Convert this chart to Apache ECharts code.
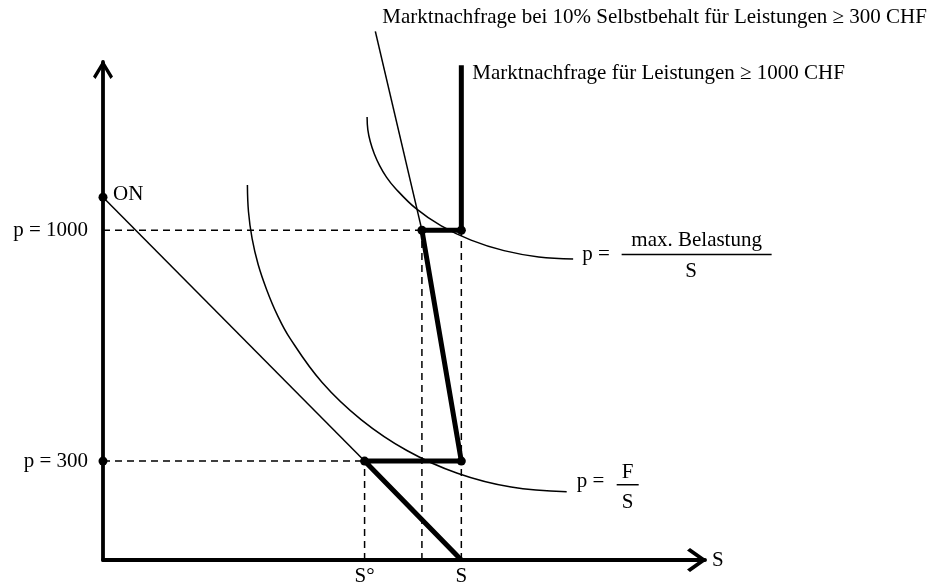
<!DOCTYPE html>
<html>
<head>
<meta charset="utf-8">
<script src="https://cdn.jsdelivr.net/npm/echarts@6/dist/echarts.min.js"></script>
<style>html,body{margin:0;padding:0;background:#fff}#c{width:945px;height:585px}</style>
</head>
<body>
<div id="c"></div>
<script>
// ---- data (S in quantity units, p in CHF) ----
const pLevels = [300, 1000];
const pLabels = ['p = 300', 'p = 1000'];
const sLevels = [73, 89, 100];          // S°, S at 10% Selbstbehalt, S
const sLabels = ['S°', '', 'S'];
const onPrice = 1100;                   // ON intercept
const topPrice = 1500;                  // top of vertical demand
const demand10Top = [76, 1603];         // top end of 10%-demand line
const upperCurve = [[73.7,1343],[73.9,1305],[74.6,1268],[75.7,1232],[77.2,1196],[79.1,1161],[81.5,1128],[87.3,1066],[94.4,1013],[102.7,970],[111.9,938],[121.6,919],[131.2,913]];
const lowerCurve = [[40.3,1137],[40.6,1056],[41.6,975],[43.3,896],[45.7,819],[48.6,744],[52.2,672],[61.1,539],[72.1,425],[84.8,332],[98.9,263],[113.9,221],[129.4,207]];
const label10 = 'Marktnachfrage bei 10% Selbstbehalt für Leistungen ≥ 300 CHF';
const label1000 = 'Marktnachfrage für Leistungen ≥ 1000 CHF';
const onLabel = 'ON';
const upperName = ['p =', 'max. Belastung', 'S'];
const lowerName = ['p =', 'F', 'S'];

// ---- derived ----
const [pLow, pHigh] = pLevels;
const [sK, sM, sS] = sLevels;
const thickPath = [[sS,0],[sK,pLow],[sS,pLow],[sM,pHigh],[sS,pHigh],[sS,topPrice]];
const thinDemand = [[0,onPrice],[sK,pLow]];
const demand10 = [[sM,pHigh], demand10Top];
const dashedSegs = [
  [[0,pHigh],[sM,pHigh]],
  [[0,pLow],[sK,pLow]],
  [[sK,0],[sK,pLow]],
  [[sM,0],[sM,pHigh]],
  [[sS,0],[sS,pHigh]]
];
const dots = [[0,onPrice],[0,pLow],[sK,pLow],[sS,pLow],[sM,pHigh],[sS,pHigh]];

const FONT = '"Liberation Serif", "Times New Roman", serif';
const chart = echarts.init(document.getElementById('c'), null, {renderer:'canvas'});

const series = [];
dashedSegs.forEach(seg => series.push({
  type:'line', data:seg, symbol:'none', silent:true, clip:false,
  lineStyle:{color:'#000', width:1.5, type:[7,5]}
}));
series.push({type:'line', data:thinDemand, symbol:'none', clip:false, lineStyle:{color:'#000', width:1.5}});
series.push({type:'line', data:demand10, symbol:'none', clip:false, lineStyle:{color:'#000', width:1.5}});
series.push({type:'line', data:upperCurve, symbol:'none', smooth:0.4, clip:false, lineStyle:{color:'#000', width:1.5}});
series.push({type:'line', data:lowerCurve, symbol:'none', smooth:0.4, clip:false, lineStyle:{color:'#000', width:1.5}});
series.push({type:'line', data:thickPath, symbol:'none', clip:false, lineStyle:{color:'#000', width:5, join:'round'}});
series.push({type:'scatter', data:dots, symbol:'circle', symbolSize:9, clip:false, itemStyle:{color:'#000', opacity:1}});

const option = {
  animation:false,
  backgroundColor:'#fff',
  grid:{left:103, top:62, width:602, height:498, containLabel:false, outerBoundsMode:'none'},
  xAxis:{
    type:'value', min:0, max:168, interval:1,
    splitLine:{show:false}, axisTick:{show:false},
    axisLine:{show:true, lineStyle:{color:'#000', width:3.8},
      symbol:['none','path://M12,0 L24,17 L21.5,20 L12,6.5 L2.5,20 L0,17 Z'], symbolSize:[24,20], symbolOffset:[0,-8]},
    axisLabel:{margin:6, color:'#000', fontFamily:FONT, fontSize:21,
      formatter:v => { const i = sLevels.indexOf(v); return i>=0 ? sLabels[i] : ''; }},
    name:'S', nameLocation:'end', nameGap:7,
    nameTextStyle:{color:'#000', fontFamily:FONT, fontSize:21, verticalAlign:'middle', padding:[2,0,0,0]}
  },
  yAxis:{
    type:'value', min:0, max:1510, interval:100,
    splitLine:{show:false}, axisTick:{show:false},
    axisLine:{show:true, lineStyle:{color:'#000', width:3.8},
      symbol:['none','path://M10,0 L20,16.5 L17.5,19 L10,6.5 L2.5,19 L0,16.5 Z'], symbolSize:[20,19], symbolOffset:[0,-7.5]},
    axisLabel:{margin:15, color:'#000', fontFamily:FONT, fontSize:21,
      formatter:v => { const i = pLevels.indexOf(v); return i>=0 ? pLabels[i] : ''; }}
  },
  series
};
chart.setOption(option);

const px = pt => chart.convertToPixel({xAxisIndex:0, yAxisIndex:0}, pt);
const txt = (text, x, y, align) => ({
  type:'text', x, y, silent:true,
  style:{text, font:'21px ' + FONT, fill:'#000', textAlign:align||'left', textVerticalAlign:'middle'}
});
const bar = (x1, x2, y) => ({type:'line', silent:true, shape:{x1, y1:y, x2, y2:y}, style:{stroke:'#000', lineWidth:1.5}});
const a0 = px([0, onPrice]);
const a1 = px(demand10Top);
const a2 = px([sS, topPrice]);
const a3 = px(upperCurve[upperCurve.length-1]);
const a4 = px(lowerCurve[lowerCurve.length-1]);
chart.setOption({graphic:[
  txt(onLabel, a0[0]+10, a0[1]-3),
  txt(label10, a1[0]+7, a1[1]-14),
  txt(label1000, a2[0]+11, a2[1]+8),
  txt(upperName[0], a3[0]+9, a3[1]-4),
  bar(a3[0]+48.5, a3[0]+198.5, a3[1]-4.5),
  txt(upperName[1], a3[0]+123.5, a3[1]-18, 'center'),
  txt(upperName[2], a3[0]+118, a3[1]+13, 'center'),
  txt(lowerName[0], a4[0]+10, a4[1]-10),
  bar(a4[0]+50, a4[0]+72, a4[1]-7),
  txt(lowerName[1], a4[0]+61, a4[1]-19, 'center'),
  txt(lowerName[2], a4[0]+61, a4[1]+11, 'center')
]});
</script>
</body>
</html>
